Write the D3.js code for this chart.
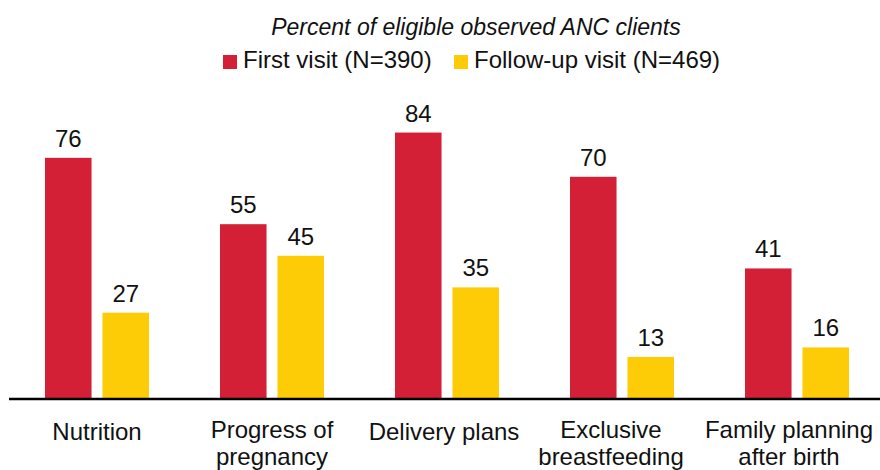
<!DOCTYPE html>
<html>
<head>
<meta charset="utf-8">
<script src="https://cdn.jsdelivr.net/npm/d3@7"></script>
<style>
  body { margin:0; background:#fff; }
  text { font-family:"Liberation Sans", Arial, sans-serif; fill:#111; }
</style>
</head>
<body>
<div id="chart"></div>
<script>
// data
var categories = ['Nutrition', 'Progress of pregnancy', 'Delivery plans', 'Exclusive breastfeeding', 'Family planning after birth']
var catLines = [['Nutrition'], ['Progress of', 'pregnancy'], ['Delivery plans'], ['Exclusive', 'breastfeeding'], ['Family planning', 'after birth']]
var seriesNames = ['First visit (N=390)', 'Follow-up visit (N=469)']
var firstVisit = [76, 55, 84, 70, 41]
var followUp = [27, 45, 35, 13, 16]
var colors = ['#d32037', '#fecc06']
// labels are not quite centred under their groups in the original
var labelShift = [0, 0, -3, -11, -8]

var w = 880, h = 470

var svg = d3.select('#chart').append('svg')
    .attr('width', w)
    .attr('height', h)

var x = d3.scaleBand().domain(categories).range([9.5, 884.5]).padding(0)
var xs = d3.scaleBand().domain(seriesNames).range([-52, 52]).paddingInner(0.19).paddingOuter(0)
var y = d3.scaleLinear().domain([0, 100]).range([398, 82])

var rows = categories.map((c, i) => ({ cat:c, vals:[firstVisit[i], followUp[i]] }))

// subtitle
svg.append('text')
    .attr('x', 476).attr('y', 35)
    .attr('text-anchor', 'middle')
    .style('font-style', 'italic')
    .style('font-size', '23px')
    .text('Percent of eligible observed ANC clients')

// legend
var legX = [223, 454]
seriesNames.forEach((s, i) => {
    var g = svg.append('g').attr('transform', 'translate(' + legX[i] + ',55)')
    g.append('rect').attr('width', 14).attr('height', 14).attr('fill', colors[i])
    g.append('text').attr('x', 20).attr('y', 13)
        .style('font-size', '24px')
        .text(s)
})

// bars
var grp = svg.selectAll('.grp')
    .data(rows)
  .enter().append('g')
    .attr('class', 'grp')
    .attr('transform', d => 'translate(' + (x(d.cat) + x.bandwidth() / 2) + ',0)')

grp.selectAll('rect')
    .data(d => d.vals.map((v, i) => ({ s:seriesNames[i], v:v, i:i })))
  .enter().append('rect')
    .attr('x', d => xs(d.s))
    .attr('width', xs.bandwidth())
    .attr('y', d => y(d.v))
    .attr('height', d => y(0) - y(d.v))
    .attr('fill', d => colors[d.i])

grp.selectAll('.val')
    .data(d => d.vals.map((v, i) => ({ s:seriesNames[i], v:v, i:i })))
  .enter().append('text')
    .attr('class', 'val')
    .attr('x', d => xs(d.s) + xs.bandwidth() / 2)
    .attr('y', d => y(d.v) - 11)
    .attr('text-anchor', 'middle')
    .style('font-size', '24px')
    .text(d => d.v)

// baseline
svg.append('line')
    .attr('x1', 9).attr('x2', w)
    .attr('y1', y(0) + 1).attr('y2', y(0) + 1)
    .attr('stroke', '#000')
    .attr('stroke-width', 2.6)

// category labels
grp.each(function(d, i) {
    var lines = catLines[i]
    var t = d3.select(this).append('text')
        .attr('text-anchor', 'middle')
        .style('font-size', '24px')
    var y0 = lines.length > 1 ? 438 : 440
    lines.forEach((l, k) => {
        t.append('tspan').attr('x', labelShift[i]).attr('y', y0 + k * 27).text(l)
    })
})
</script>
</body>
</html>
